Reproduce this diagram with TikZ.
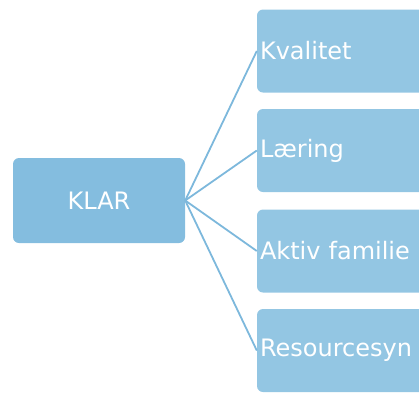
\documentclass[tikz,border=0pt]{standalone}
\usepackage{fontspec}
\setmainfont{DejaVu Sans}
\definecolor{mainbox}{HTML}{84BDDF}
\definecolor{subbox}{HTML}{93C6E3}
\definecolor{linkc}{HTML}{7DB8DC}
\begin{document}
\begin{tikzpicture}[x=1pt,y=-1pt,
  boxtext/.style={font=\fontsize{24}{28}\selectfont, text=white},
  mainnode/.style={boxtext, rectangle, rounded corners=6pt, fill=mainbox, minimum width=172pt, minimum height=85pt, inner sep=0pt},
  subnode/.style={boxtext, rectangle, rounded corners=6pt, fill=subbox, minimum width=200pt, minimum height=83pt, inner xsep=3pt, inner ysep=0pt, text width=194pt, align=left},
  link/.style={draw=linkc, line width=1.8pt}]
\useasboundingbox (0,0) rectangle (419,392);
\clip (0,0) rectangle (419,392);
\node[mainnode] (klar) at (99,200.5) {KLAR};
\node[subnode] (kv) at (357,51) {Kvalitet};
\node[subnode] (la) at (357,150.5) {Læring};
\node[subnode] (ak) at (357,251) {Aktiv familie};
\node[subnode] (re) at (357,350.5) {Resourcesyn};
\draw[link] (klar.east) -- (kv.west);
\draw[link] (klar.east) -- (la.west);
\draw[link] (klar.east) -- (ak.west);
\draw[link] (klar.east) -- (re.west);
\end{tikzpicture}
\end{document}
